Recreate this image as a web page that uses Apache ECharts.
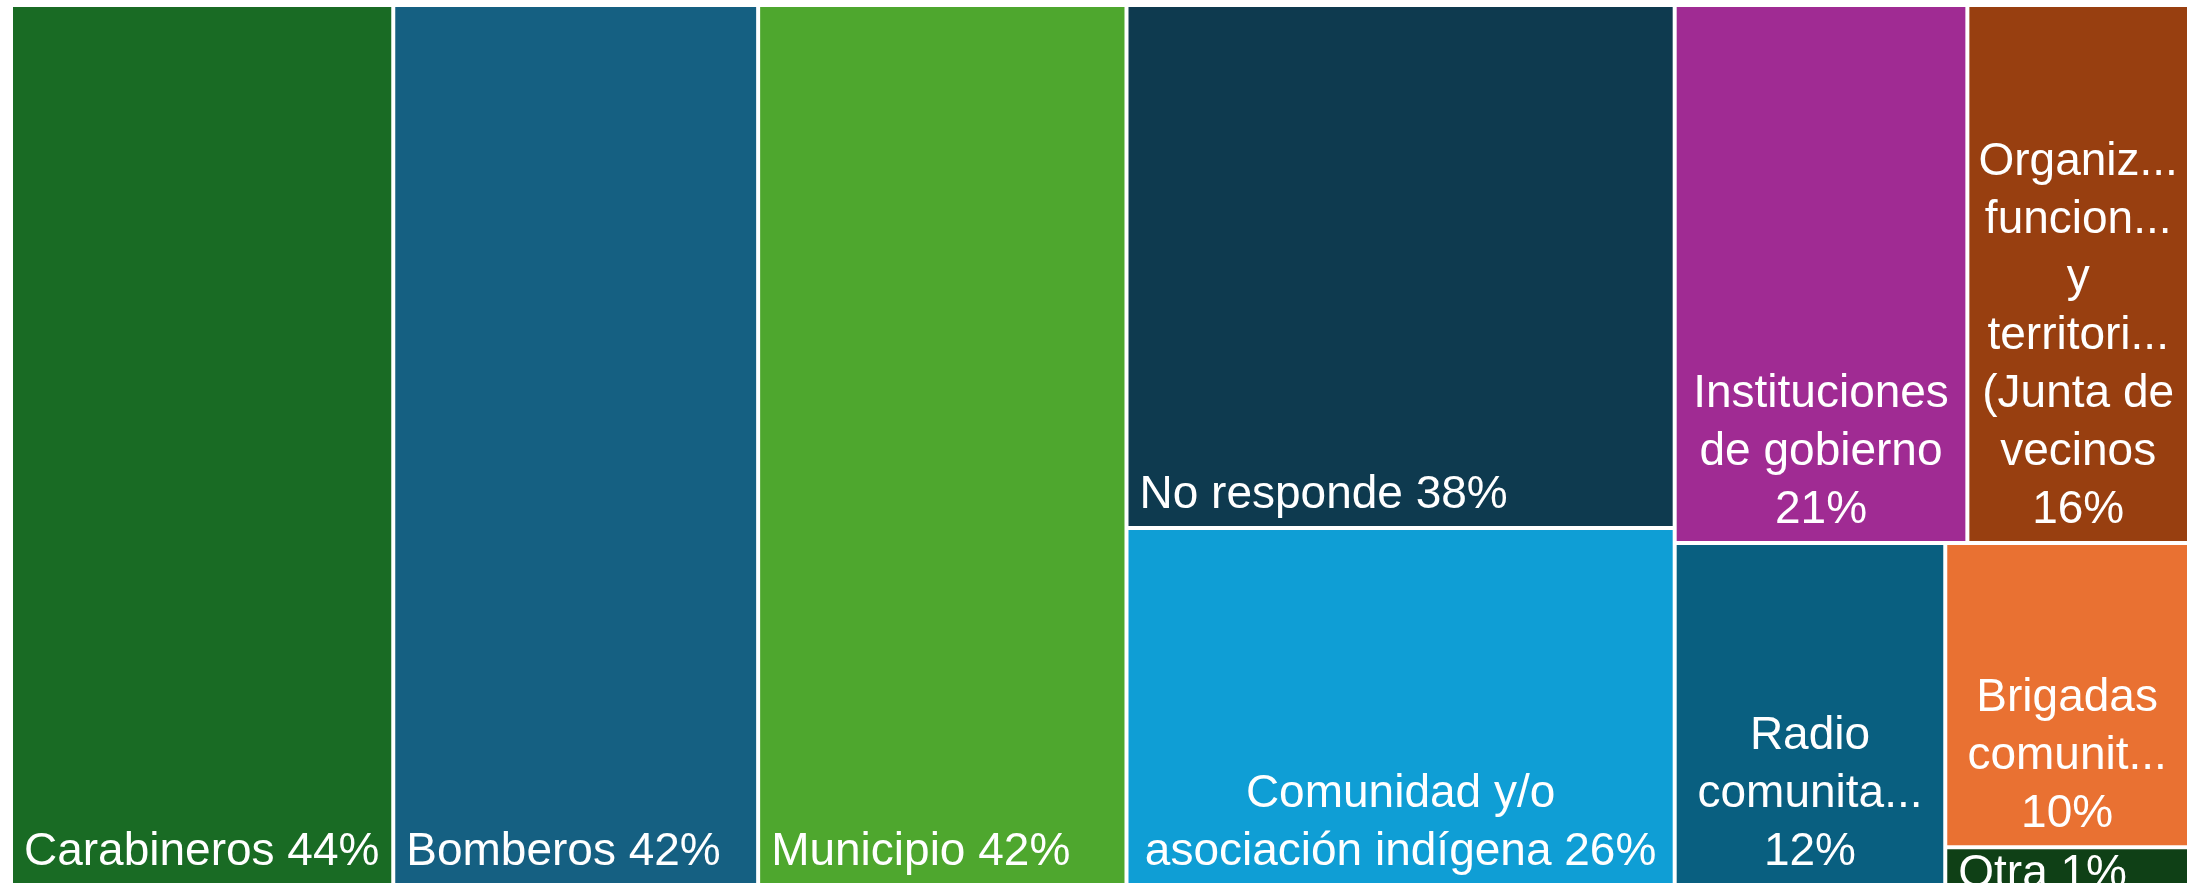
<!DOCTYPE html>
<html>
<head>
<meta charset="utf-8">
<script src="https://cdn.jsdelivr.net/npm/echarts@6/dist/echarts.min.js"></script>
<style>
  html, body { margin: 0; padding: 0; background: #ffffff; }
  #chart { width: 2190px; height: 885px; }
</style>
</head>
<body>
<div id="chart"></div>
<script>
// ---- data ----
const categories = [
  'Carabineros', 'Bomberos', 'Municipio', 'No responde',
  'Comunidad y/o asociación indígena', 'Instituciones de gobierno',
  'Organizaciones funcionales y territoriales (Junta de vecinos',
  'Radio comunitaria', 'Brigadas comunitarias', 'Otra'
];
const values = [44.0, 42.0, 42.4, 37.5, 25.6, 20.6, 15.6, 12.1, 9.7, 1.2];
// label text as displayed (wrapped / truncated as in the picture); {v} = percentage
const labelTemplates = [
  'Carabineros {v}', 'Bomberos {v}', 'Municipio {v}', 'No responde {v}',
  'Comunidad y/o\nasociación indígena {v}', 'Instituciones\nde gobierno\n{v}',
  'Organiz...\nfuncion...\ny\nterritori...\n(Junta de\nvecinos\n{v}',
  'Radio\ncomunita...\n{v}', 'Brigadas\ncomunit...\n{v}', 'Otra {v}'
];
const colors = [
  '#196B24', '#156082', '#4EA72E', '#0E3A4F', '#0F9ED5',
  '#A02B93', '#983F10', '#095F80', '#E97132', '#0F4016'
];
// treemap nesting (indices into the arrays): 'h' = side by side, 'v' = stacked
const layoutTree = ['h', [0, 1, 2, ['v', [3, 4]], ['v', [['h', [5, 6]], ['h', [7, ['v', [8, 9]]]]]]]];

// ---- layout in data space ----
function sumNode(n) {
  return typeof n === 'number' ? values[n] : n[1].reduce((s, c) => s + sumNode(c), 0);
}
function layout(n, x0, x1, y0, y1, out) {
  if (typeof n === 'number') { out.push([x0, x1, y0, y1, n]); return; }
  const tot = sumNode(n);
  let pos = 0;
  n[1].forEach(c => {
    const f0 = pos / tot; pos += sumNode(c); const f1 = pos / tot;
    if (n[0] === 'h') layout(c, x0 + (x1 - x0) * f0, x0 + (x1 - x0) * f1, y0, y1, out);
    else layout(c, x0, x1, y0 + (y1 - y0) * f0, y0 + (y1 - y0) * f1, out);
  });
}
const total = sumNode(layoutTree);
const cells = [];
layout(layoutTree, 0, total, 0, 1, cells);

const FONT_SIZE = 46;
const LINE_H = 58;
const FONT = FONT_SIZE + 'px "Liberation Sans", Arial, sans-serif';

const chart = echarts.init(document.getElementById('chart'), null, { renderer: 'canvas' });
chart.setOption({
  animation: false,
  backgroundColor: '#ffffff',
  grid: { left: 11, top: 5, width: 2178, height: 884, containLabel: false },
  xAxis: { type: 'value', min: 0, max: total, show: false },
  yAxis: { type: 'value', min: 0, max: 1, inverse: true, show: false },
  series: [{
    type: 'custom',
    coordinateSystem: 'cartesian2d',
    clip: false,
    dimensions: ['x0', 'x1', 'y0', 'y1', 'idx'],
    encode: { x: [0, 1], y: [2, 3] },
    data: cells,
    renderItem(params, api) {
      const i = api.value(4);
      const p0 = api.coord([api.value(0), api.value(2)]);
      const p1 = api.coord([api.value(1), api.value(3)]);
      const g = 2;
      const left = Math.min(p0[0], p1[0]) + g;
      const right = Math.max(p0[0], p1[0]) - g;
      const top = Math.min(p0[1], p1[1]) + g;
      const bottom = Math.max(p0[1], p1[1]) - g;
      const text = labelTemplates[i].replace('{v}', Math.round(values[i]) + '%');
      const nLines = text.split('\n').length;
      const multi = nLines > 1;
      const overflow = nLines * LINE_H > (bottom - top);
      const label = overflow ? {
        type: 'text', x: left + 11, y: top + 2,
        style: { text, fill: '#ffffff', font: FONT, align: 'left', verticalAlign: 'top', lineHeight: FONT_SIZE }
      } : {
        type: 'text', x: multi ? (left + right) / 2 : left + 11, y: bottom - 2,
        style: { text, fill: '#ffffff', font: FONT, align: multi ? 'center' : 'left',
                 verticalAlign: 'bottom', lineHeight: LINE_H }
      };
      return {
        type: 'group',
        children: [
          { type: 'rect', shape: { x: left, y: top, width: right - left, height: bottom - top },
            style: { fill: colors[i] } },
          label
        ]
      };
    }
  }]
});
</script>
</body>
</html>
